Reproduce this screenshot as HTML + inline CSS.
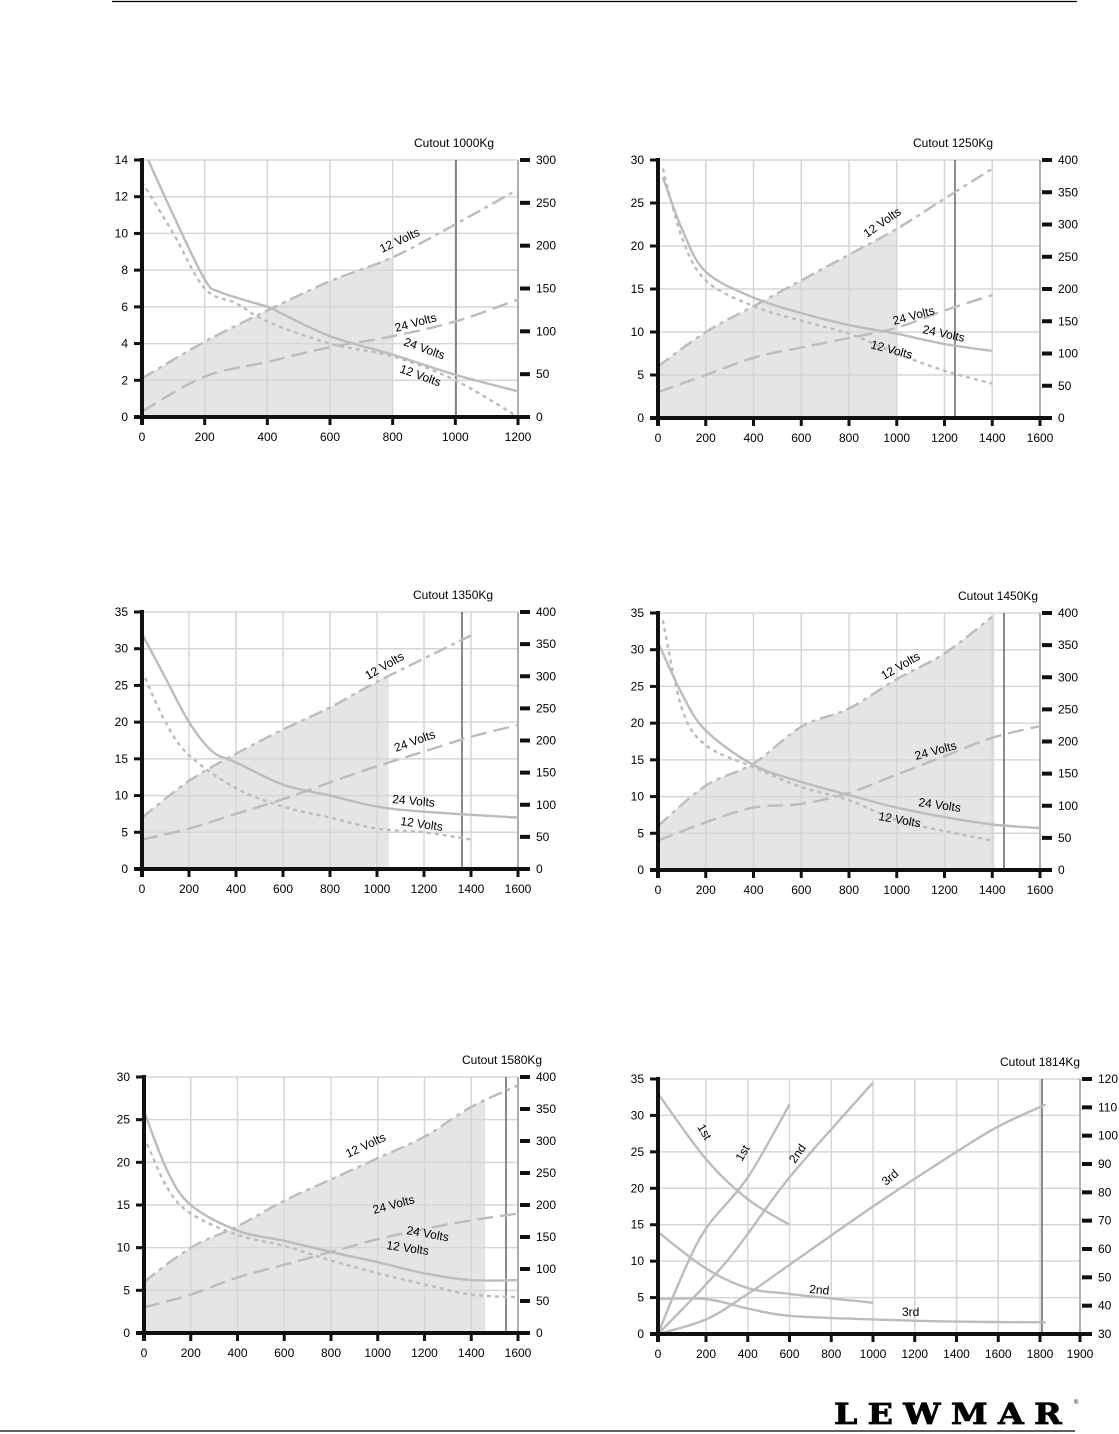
<!DOCTYPE html>
<html><head><meta charset="utf-8"><style>
html,body{margin:0;padding:0;background:#fff;}
body{width:1119px;height:1434px;overflow:hidden;position:relative;}
svg{position:absolute;left:0;top:0;}
</style></head><body>
<svg id="s" width="1119" height="1434" xmlns="http://www.w3.org/2000/svg" font-family="Liberation Sans, sans-serif"></svg>
<script>
const S=document.getElementById('s');let h='';
h+='<line x1="112" y1="1.5" x2="1077" y2="1.5" stroke="#000" stroke-width="1.2"/>';
h+='<line x1="0" y1="1431" x2="1075" y2="1431" stroke="#000" stroke-width="1.2"/>';
h+='<text x="834" y="1424" font-family="DejaVu Serif, serif" font-weight="bold" font-size="29" letter-spacing="9" textLength="238" lengthAdjust="spacingAndGlyphs" stroke="#000" stroke-width="0.8">LEWMAR</text><text x="1074" y="1404" font-size="6">®</text>';
const G='#bcbcbc';
function smooth(pts){
 if(pts.length<3)return 'M'+pts.map(p=>p.join(',')).join(' L');
 let d='M'+pts[0][0].toFixed(1)+','+pts[0][1].toFixed(1);
 for(let i=0;i<pts.length-1;i++){
  const p0=pts[i-1]||pts[i],p1=pts[i],p2=pts[i+1],p3=pts[i+2]||p2;
  const c1=[p1[0]+(p2[0]-p0[0])/6,p1[1]+(p2[1]-p0[1])/6],c2=[p2[0]-(p3[0]-p1[0])/6,p2[1]-(p3[1]-p1[1])/6];
  d+=` C${c1[0].toFixed(1)},${c1[1].toFixed(1)} ${c2[0].toFixed(1)},${c2[1].toFixed(1)} ${p2[0].toFixed(1)},${p2[1].toFixed(1)}`;
 }
 return d;
}
function chart(c){
 const {x0,x1,yt,yb,xmax,xs,ymax,ys,r0,r1,rs,cut,cutX}=c;
 const xt=c.xticks||(()=>{let a=[];for(let v=0;v<=xmax;v+=xs)a.push(v);return a;})();
 const X=c.X||(v=>x0+(x1-x0)*v/xmax), Y=v=>yb-(yb-yt)*v/ymax;
 const PP=a=>a.map(p=>[X(p[0]),Y(p[1])]);
 if(c.shade){const pts=c.dd.filter(p=>p[0]<=c.shade);const last=c.dd.find(p=>p[0]>c.shade)||pts[pts.length-1];
  let prev=pts[pts.length-1];let yv=prev[1]+(last[1]-prev[1])*(c.shade-prev[0])/((last[0]-prev[0])||1);
  const q=PP(pts.concat([[c.shade,yv]]));
  h+=`<path d="${smooth(q)} L${X(c.shade)},${yb} L${x0},${yb} Z" fill="#e5e5e7"/>`;}
 xt.slice(1).forEach(v=>h+=`<line x1="${X(v)}" y1="${yt}" x2="${X(v)}" y2="${yb}" stroke="#d6d6d6" stroke-width="1.5"/>`);
 for(let v=ys;v<=ymax;v+=ys)h+=`<line x1="${x0}" y1="${Y(v)}" x2="${x1}" y2="${Y(v)}" stroke="#d6d6d6" stroke-width="1.5"/>`;
 h+=`<line x1="${x1}" y1="${yt}" x2="${x1}" y2="${yb}" stroke="#999" stroke-width="1.5"/>`;
 h+=`<line x1="${cutX}" y1="${yt}" x2="${cutX}" y2="${yb}" stroke="#666" stroke-width="1.5"/>`;
 h+=`<text x="${c.cutTx}" y="${yt-13}" font-size="12">${cut}</text>`;
 const ln=(a,d)=>h+=`<path d="${smooth(PP(a))}" fill="none" stroke="${G}" stroke-width="2.4" stroke-linejoin="round" ${d?'stroke-dasharray="'+d+'"':''}/>`;
 (c.solid||[]).forEach(a=>ln(a));
 if(c.dot)ln(c.dot,'4 4'); if(c.dd)ln(c.dd,'14 5 4 5'); if(c.da)ln(c.da,'16 7');
 h+=`<line x1="${x0}" y1="${yt-2}" x2="${x0}" y2="${yb+8}" stroke="#111" stroke-width="4"/>`;
 h+=`<line x1="${x0-8}" y1="${yb}" x2="${x1+10}" y2="${yb}" stroke="#111" stroke-width="4"/>`;
 for(let v=0;v<=ymax;v+=ys){h+=`<line x1="${x0-8}" y1="${Y(v)}" x2="${x0}" y2="${Y(v)}" stroke="#111" stroke-width="3"/><text x="${x0-14}" y="${Y(v)+4}" font-size="12" text-anchor="end">${v}</text>`;}
 xt.forEach(v=>{h+=`<line x1="${X(v)}" y1="${yb}" x2="${X(v)}" y2="${yb+8}" stroke="#111" stroke-width="3"/><text x="${X(v)}" y="${yb+24}" font-size="12" text-anchor="middle">${v}</text>`;});
 for(let v=r0;v<=r1;v+=rs){let y=yb-(yb-yt)*(v-r0)/(r1-r0);h+=`<line x1="${x1+2}" y1="${y}" x2="${x1+12}" y2="${y}" stroke="#111" stroke-width="4"/><text x="${x1+18}" y="${y+4}" font-size="12">${v}</text>`;}
 (c.labels||[]).forEach(l=>h+=`<text transform="translate(${l[0]},${l[1]}) rotate(${l[3]})" font-size="12">${l[2]}</text>`);
}
chart({x0:142,x1:518,yt:160,yb:417,xmax:1200,xs:200,ymax:14,ys:2,r0:0,r1:300,rs:50,cut:'Cutout 1000Kg',cutX:456,cutTx:414,shade:800,
 solid:[[[20,14],[100,11],[200,7.5],[250,6.8],[400,6],[450,5.6],[600,4.4],[800,3.4],[1000,2.3],[1200,1.4]]],
 dot:[[0,12.8],[100,10],[200,7],[300,6.2],[400,5.2],[600,4],[800,3.3],[1000,2],[1200,0]],
 dd:[[0,2.1],[200,4.1],[400,5.8],[600,7.4],[800,8.7],[1000,10.5],[1200,12.4]],
 da:[[0,0.3],[200,2.2],[400,3],[600,3.8],[800,4.4],[1000,5.2],[1200,6.4]],
 labels:[[382,253,'12 Volts',-25],[396,332,'24 Volts',-15],[403,345,'24 Volts',20],[399,372,'12 Volts',20]]});
chart({x0:658,x1:1040,yt:160,yb:418,xmax:1600,xs:200,ymax:30,ys:5,r0:0,r1:400,rs:50,cut:'Cutout 1250Kg',cutX:955,cutTx:913,shade:1000,
 solid:[[[20,28],[100,22],[200,17],[400,14],[600,12.2],[800,10.8],[1000,9.8],[1200,8.6],[1400,7.8]]],
 dot:[[20,29],[100,21],[200,16],[400,13],[600,11.3],[800,9.8],[1000,7.5],[1200,5.5],[1400,4]],
 dd:[[0,6],[200,10],[400,13],[600,16],[800,19],[1000,22],[1200,25.5],[1400,29]],
 da:[[0,3],[200,5],[400,7],[600,8.2],[800,9.3],[1000,10.5],[1200,12.5],[1400,14.3]],
 labels:[[867,238,'12 Volts',-35],[894,325,'24 Volts',-15],[922,333,'24 Volts',12],[870,348,'12 Volts',15]]});
chart({x0:142,x1:518,yt:612,yb:869,xmax:1600,xs:200,ymax:35,ys:5,r0:0,r1:400,rs:50,cut:'Cutout 1350Kg',cutX:462,cutTx:413,shade:1050,
 solid:[[[0,32],[100,26],[200,20],[300,16],[400,14.5],[600,11.5],[800,10],[1000,8.5],[1200,7.8],[1600,7]]],
 dot:[[0,27],[100,20],[200,15.5],[400,11],[600,8.5],[800,7],[1000,5.5],[1200,5],[1400,4]],
 dd:[[0,7],[200,12],[400,15.7],[600,19],[800,22],[1000,25.5],[1400,31.8]],
 da:[[0,4],[200,5.5],[400,7.5],[600,9.5],[800,11.8],[1000,14],[1200,16],[1400,18],[1600,19.6]],
 labels:[[368,680,'12 Volts',-30],[396,752,'24 Volts',-20],[392,803,'24 Volts',5],[400,825,'12 Volts',8]]});
chart({x0:658,x1:1040,yt:613,yb:870,xmax:1600,xs:200,ymax:35,ys:5,r0:0,r1:400,rs:50,cut:'Cutout 1450Kg',cutX:1004,cutTx:958,shade:1410,
 solid:[[[0,31],[100,24],[200,19],[400,14.3],[600,12],[800,10.2],[1000,8.5],[1200,7.2],[1400,6.2],[1600,5.7]]],
 dot:[[20,34],[100,22],[200,17],[400,14],[600,11.3],[800,9.5],[1000,6.8],[1200,5.3],[1400,4]],
 dd:[[0,6],[200,11.5],[400,14.5],[600,19.5],[800,22],[1000,26],[1200,29.5],[1400,34.5]],
 da:[[0,4],[200,6.5],[400,8.5],[600,9],[800,10.5],[1000,13],[1200,15.5],[1400,18],[1600,19.6]],
 labels:[[884,680,'12 Volts',-30],[916,760,'24 Volts',-15],[918,806,'24 Volts',8],[878,820,'12 Volts',10]]});
chart({x0:144,x1:518,yt:1077,yb:1333,xmax:1600,xs:200,ymax:30,ys:5,r0:0,r1:400,rs:50,cut:'Cutout 1580Kg',cutX:506,cutTx:462,shade:1460,
 solid:[[[0,26],[100,19],[200,15],[400,12],[600,10.8],[800,9.5],[1000,8.3],[1200,7],[1400,6.2],[1600,6.2]]],
 dot:[[0,23],[100,17],[200,14],[400,11.5],[600,10.2],[800,8.5],[1000,7],[1200,5.7],[1400,4.5],[1600,4.2]],
 dd:[[0,6],[200,10],[400,12.5],[600,15.5],[800,18],[1000,20.5],[1200,23],[1400,26.5],[1600,29]],
 da:[[0,3],[200,4.5],[400,6.5],[600,8],[800,9.5],[1000,11],[1200,12.2],[1400,13.2],[1600,14]],
 labels:[[348,1158,'12 Volts',-25],[374,1214,'24 Volts',-15],[406,1234,'24 Volts',10],[386,1249,'12 Volts',8]]});
chart({x0:658,x1:1080,yt:1079,yb:1334,xmax:1900,xs:200,ymax:35,ys:5,r0:30,r1:120,rs:10,cut:'Cutout 1814Kg',cutX:1042,cutTx:1000,
 xticks:[0,200,400,600,800,1000,1200,1400,1600,1800,1900],
 X:v=>v<=200?658+48*v/200:(v<=1800?706+(1040-706)*(v-200)/1600:1040+40*(v-1800)/100),
 solid:[[[0,33],[200,24],[400,18.5],[600,15]],[[0,0],[100,8],[200,14.5],[400,21.5],[600,31.5]],[[0,0],[300,10],[600,21.5],[1000,34.5]],
 [[0,0],[200,2],[400,5.5],[600,9.5],[1000,17.5],[1400,25],[1600,28.5],[1814,31.5]],[[0,14],[200,9],[400,6.3],[600,5.5],[1000,4.3]],
 [[0,4.8],[200,4.8],[400,3.5],[600,2.5],[1000,2],[1400,1.7],[1814,1.6]]],
 labels:[[697,1127,'1st',60],[742,1162,'1st',-60],[795,1164,'2nd',-55],[886,1186,'3rd',-40],[809,1293,'2nd',5],[902,1316,'3rd',0]]});
S.innerHTML=h;
</script>
</body></html>
